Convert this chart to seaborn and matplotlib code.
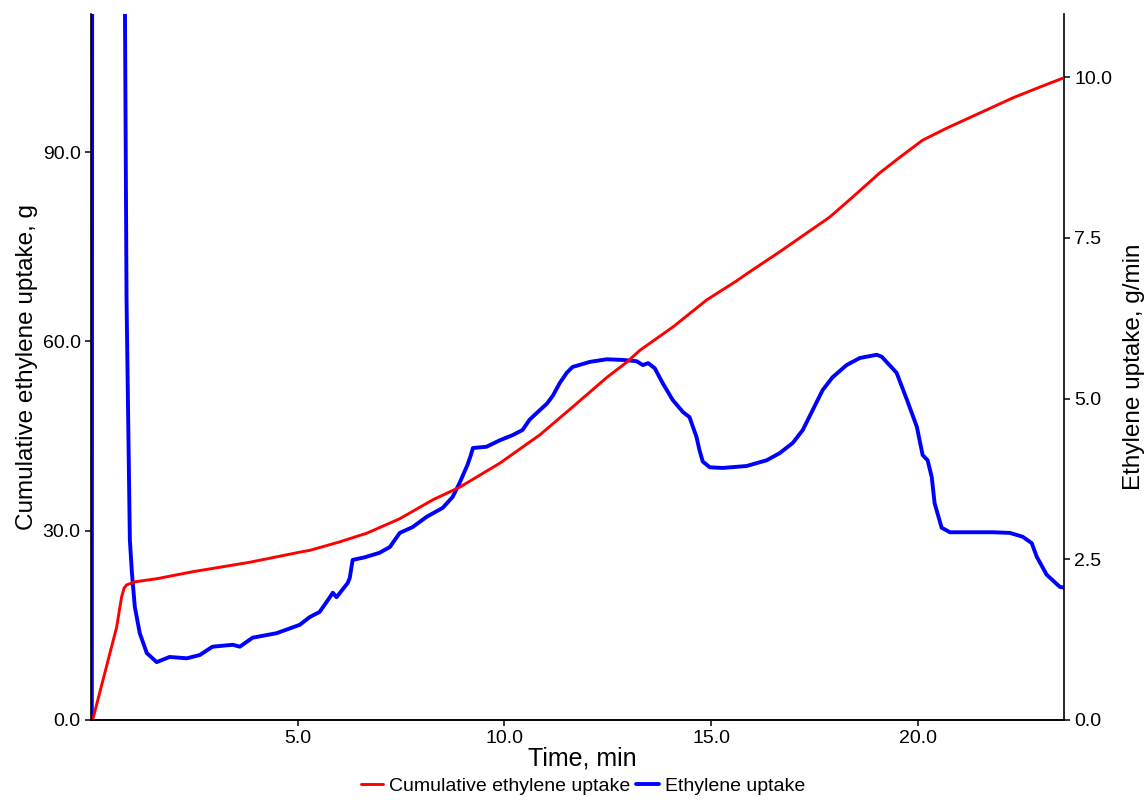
import matplotlib
matplotlib.use("Agg")
import matplotlib.pyplot as plt
from matplotlib.ticker import FormatStrFormatter
import seaborn as sns

# Cumulative ethylene uptake (g) versus time (min)
time_cum = [0.04, 0.62, 0.74, 0.80, 0.86, 1.06, 1.60, 2.46, 3.84, 5.05, 5.30,
            6.00, 6.67, 7.47, 8.27, 8.92, 9.89, 10.86, 11.65, 12.48, 12.96,
            13.28, 14.08, 14.90, 15.62, 15.86, 16.66, 17.32, 17.87, 18.43,
            19.08, 19.57, 20.12, 20.70, 21.50, 22.30, 22.95, 23.54]
cum_uptake = [0.0, 14.7, 19.5, 20.9, 21.4, 21.9, 22.4, 23.5, 25.0, 26.6, 26.9,
              28.2, 29.6, 31.9, 34.9, 36.9, 40.7, 45.2, 49.6, 54.3, 56.7,
              58.6, 62.3, 66.6, 69.6, 70.7, 74.2, 77.2, 79.7, 82.9,
              86.7, 89.2, 91.9, 93.8, 96.2, 98.6, 100.3, 101.8]

# Ethylene uptake rate (g/min) versus time (min)
time_rate = [0.00, 0.02, 0.03, 0.80, 0.82, 0.86, 0.94, 0.99, 1.06, 1.18, 1.35,
             1.59, 1.90, 2.32, 2.63, 2.94, 3.43, 3.60, 3.91, 4.49, 5.05, 5.29,
             5.53, 5.78, 5.85, 5.94, 6.21, 6.26, 6.33, 6.62, 6.98, 7.23, 7.47,
             7.78, 8.12, 8.51, 8.75, 8.92, 9.11, 9.19, 9.24, 9.57, 9.89, 10.20,
             10.44, 10.61, 10.86, 11.03, 11.17, 11.34, 11.51, 11.65, 12.07,
             12.48, 12.87, 13.20, 13.35, 13.48, 13.64, 13.83, 14.07,
             14.32, 14.48, 14.65, 14.72, 14.80, 14.97, 15.28, 15.86,
             16.35, 16.66, 16.98, 17.22, 17.46, 17.70, 17.94, 18.28, 18.60,
             19.01, 19.13, 19.49, 19.74, 19.98, 20.12, 20.24, 20.34, 20.41,
             20.58, 20.78, 21.43, 21.82, 22.23, 22.54, 22.76, 22.88, 23.12,
             23.44, 23.54]
rate_uptake = [0.00, 0.00, 14.0, 14.0, 11.2, 6.53, 2.80, 2.29, 1.76, 1.35, 1.04,
               0.90, 0.98, 0.96, 1.01, 1.14, 1.17, 1.14, 1.28, 1.35, 1.48, 1.60,
               1.68, 1.91, 1.98, 1.91, 2.13, 2.21, 2.49, 2.53, 2.60, 2.69, 2.91,
               3.00, 3.16, 3.30, 3.47, 3.69, 3.97, 4.12, 4.23, 4.25, 4.35, 4.43,
               4.51, 4.67, 4.82, 4.92, 5.04, 5.24, 5.40, 5.49, 5.57,
               5.61, 5.60, 5.58, 5.52, 5.55, 5.47, 5.24, 4.98,
               4.79, 4.71, 4.40, 4.20, 4.02, 3.93, 3.92, 3.95,
               4.04, 4.15, 4.31, 4.51, 4.82, 5.13, 5.33, 5.52, 5.63,
               5.68, 5.65, 5.40, 4.98, 4.56, 4.12, 4.04, 3.78, 3.37,
               2.99, 2.92, 2.92, 2.92, 2.91, 2.85, 2.75, 2.54, 2.26,
               2.07, 2.06]

x_ticks = [5.0, 10.0, 15.0, 20.0]
left_ticks = [0.0, 30.0, 60.0, 90.0]
right_ticks = [0.0, 2.5, 5.0, 7.5, 10.0]

sns.set_style("ticks")
plt.rcParams["font.family"] = ["Liberation Sans", "DejaVu Sans"]
plt.rcParams["text.color"] = "black"
plt.rcParams["axes.labelcolor"] = "black"

fig = plt.figure(figsize=(11.47, 8), dpi=100)
ax = fig.add_axes([91 / 1147, 80 / 800, 973 / 1147, 706 / 800])
ax2 = ax.twinx()

sns.lineplot(x=time_rate, y=rate_uptake, ax=ax2, color="#0000ff", lw=2.8,
             estimator=None, sort=False, label="Ethylene uptake")
sns.lineplot(x=time_cum, y=cum_uptake, ax=ax, color="#ff0000", lw=2.1,
             estimator=None, sort=False, label="Cumulative ethylene uptake")

# keep the cumulative curve above the rate curve
ax.set_zorder(ax2.get_zorder() + 1)
ax.patch.set_visible(False)

ax.set_xlim(0, 23.54)
ax.set_ylim(0, 111.9)
ax2.set_ylim(0, 10.98)

ax.set_xticks(x_ticks)
ax.set_yticks(left_ticks)
ax2.set_yticks(right_ticks)
for a in (ax, ax2):
    a.xaxis.set_major_formatter(FormatStrFormatter("%.1f"))
    a.yaxis.set_major_formatter(FormatStrFormatter("%.1f"))
    a.tick_params(direction="out", length=4.5, width=1.1, labelsize=14,
                  colors="black", pad=3)
    for s in a.spines.values():
        s.set_linewidth(1.2)
        s.set_color("black")
    a.spines["top"].set_visible(False)
ax.spines["right"].set_visible(False)
ax2.spines["left"].set_visible(False)

ax.set_xlabel("Time, min", fontsize=18, color="black")
ax.set_ylabel("Cumulative ethylene uptake, g", fontsize=17.5, color="black")
ax2.set_ylabel("Ethylene uptake, g/min", fontsize=17.5, color="black")
ax.xaxis.set_label_coords(0.505, -0.038)
ax.yaxis.set_label_coords(-0.054, 0.5)
ax2.yaxis.set_label_coords(1.061, 0.5)

h1, l1 = ax.get_legend_handles_labels()
h2, l2 = ax2.get_legend_handles_labels()
ax.get_legend().remove()
ax2.get_legend().remove()
fig.legend(h1 + h2, l1 + l2, loc="center", ncol=2, frameon=False,
           bbox_to_anchor=(583 / 1147, 1 - 786 / 800), fontsize=14,
           handlelength=1.15, handletextpad=0.3, columnspacing=0.3,
           labelcolor="black")

fig.savefig("out.png", dpi=100)
